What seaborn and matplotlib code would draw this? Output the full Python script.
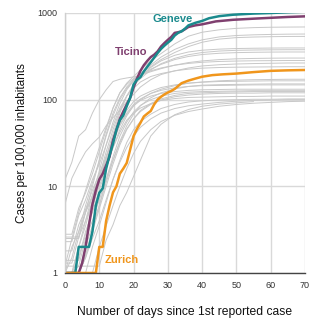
import numpy as np
import pandas as pd
import matplotlib
matplotlib.use("Agg")
import matplotlib.pyplot as plt
import matplotlib.ticker as mticker
import seaborn as sns

sns.set_theme(style="white")
plt.rcParams['font.family'] = ['Liberation Sans', 'DejaVu Sans']

# ---------------- data ----------------
# highlighted cantons (cases per 100,000 inhabitants vs days since 1st case)
geneve_days = [0, 1, 2, 3, 4, 5, 6, 7, 8, 9, 10, 11, 12, 13, 14, 15, 16, 17, 18, 19, 20,
               21, 22, 23, 24, 25, 26, 27, 28, 29, 30, 31, 32, 33, 34, 35, 36, 38, 40, 42,
               45, 49, 55, 60, 65, 70]
geneve_vals = [1, 1, 1, 1, 2, 2, 2, 2, 3, 6, 8.4, 9.5, 16, 23, 31, 45, 58, 66, 84, 105, 150,
               170, 182, 212, 240, 270, 305, 345, 385, 420, 455, 490, 550, 590, 615, 660, 720,
               770, 810, 870, 920, 955, 985, 1000, 1020, 1035]

ticino_days = [0, 1, 2, 3, 4, 5, 6, 7, 8, 9, 10, 11, 12, 13, 14, 15, 16, 17, 18, 19, 20,
               21, 22, 23, 24, 25, 26, 27, 28, 29, 30, 31, 32, 33, 34, 35, 36, 38, 40, 44,
               49, 55, 60, 65, 70]
ticino_vals = [1, 1, 1, 1, 1, 1.3, 2, 3.6, 6.2, 9, 12, 14, 17.5, 22, 34, 45, 60, 73, 88, 105,
               138, 175, 215, 250, 280, 310, 330, 360, 410, 450, 490, 530, 590, 600, 615, 650,
               690, 720, 740, 800, 835, 860, 880, 900, 915]

zurich_days = [0, 1, 2, 3, 4, 5, 6, 7, 8, 9, 10, 11, 12, 13, 14, 15, 16, 17, 18, 19, 20,
               21, 22, 23, 24, 25, 26, 27, 28, 29, 30, 31, 32, 34, 36, 38, 40, 43, 46, 50,
               55, 60, 65, 70]
zurich_vals = [1, 1, 1, 1, 1, 1, 1, 1, 1, 1, 2, 2, 4, 6, 8.5, 10, 14, 16, 18.6, 26.5, 38,
               46, 54, 64, 69, 74, 88, 100, 108, 115, 121, 126, 133, 155, 166, 175, 184, 192,
               196, 200, 208, 215, 218, 220]

# other cantons, sampled on a shared day grid
gray_days = [0, 2, 4, 6, 8, 10, 12, 14, 16, 18, 20, 22, 25, 28, 32, 36, 40, 45, 50, 55, 60, 65, 70]
nan = float('nan')
VD = [1.2, 2.5, 5, 9, 16, 28, 48, 80, 120, 155, 185, 220, 280, 340, 440, 540, 600, 640, 665, 678, 685, 688, 690]
VS = [1, 1, 2, 4, 8, 15, 30, 55, 90, 130, 165, 200, 250, 310, 380, 440, 490, 530, 550, 560, 566, 570, 572]
BS = [1, 2, 3, 5, 10, 20, 40, 70, 105, 140, 170, 200, 240, 290, 350, 410, 460, 500, 520, 528, 533, 536, 537]
JU = [1.4, 1.4, 1.4, 2.8, 5.5, 11, 22, 40, 70, 110, 150, 185, 235, 280, 325, 355, 372, 383, 389, 392, 394, 395, 395]
NE = [1, 1, 2, 3.5, 7, 13, 25, 45, 75, 110, 145, 175, 220, 260, 300, 330, 350, 364, 371, 374, 376, 377, 377]
FR = [1, 1.5, 3, 6, 11, 20, 38, 65, 100, 135, 165, 190, 225, 255, 290, 315, 332, 343, 349, 352, 354, 355, 355]
GR = [12, 19, 38, 45, 70, 100, 130, 162, 172, 178, 183, 192, 210, 228, 250, 268, 280, 290, 296, 299, 301, 302, 302]
UR = [2.8, 2.8, 5.6, 8.4, 14, 25, 45, 80, 120, 150, 175, 195, 215, 232, 250, 262, 270, 276, 279, 281, 282, 283, 283]
AI = [6.2, 12.4, 18, 25, 31, 37, 50, 62, 75, 95, 115, 140, 170, 195, 215, 232, 245, 253, 258, 261, 263, 265, 265]
NW = [2.3, 2.3, 4.6, 7, 12, 18, 30, 50, 80, 110, 135, 160, 185, 200, 215, 225, 231, 235, 237, 238, 239, 240, 240]
BL = [1, 1, 1.5, 3, 5, 9, 16, 28, 45, 65, 85, 100, 118, 132, 145, 155, 160, 165, 168, 170, 171, 172, 172]
OW = [2.6, 2.6, 2.6, 5.2, 7.8, 13, 21, 35, 55, 75, 95, 110, 125, 138, 148, 155, 159, 162, 163, 164, 165, 165, 165]
SO = [1, 1, 1, 2, 3.5, 6, 11, 20, 33, 50, 68, 85, 105, 120, 133, 142, 147, 149, 150, 151, 152, 152, 152]
AR = [1.8, 1.8, 3.6, 5.4, 9, 14, 22, 35, 52, 70, 88, 102, 118, 128, 137, 142, 145, 146, 147, 148, 148, 148, 148]
GL = [2.5, 2.5, 2.5, 5, 7.5, 12, 20, 32, 50, 68, 85, 98, 110, 118, 124, 128, 130, 131, 132, 132, 132, 132, 132]
ZG = [1, 1, 1, 1.6, 3.2, 6, 12, 22, 38, 55, 72, 86, 100, 110, 118, 122, 124, 125, 126, 127, 127, 127, 127]
BE = [1, 1, 1, 1.5, 3, 5.5, 10, 18, 30, 45, 60, 75, 90, 102, 112, 118, 120, 122, 123, 124, 124, 124, 124]
LU = [1, 1, 1.2, 2.5, 4, 7, 12, 20, 32, 46, 60, 73, 88, 99, 108, 113, 116, 118, 119, 119, 120, 120, 120]
SZ = [1.3, 1.3, 2.6, 4, 6.5, 10, 17, 28, 42, 58, 70, 80, 90, 98, 103, 106, 107, 108, 109, 109, 110, 110, 110]
SG = [1, 1, 1, 1, 2, 3.5, 6.5, 12, 20, 32, 45, 56, 68, 79, 88, 94, 97, 99, 100, 101, 101, 102, 102]
AG = [1, 1, 1, 1.5, 2.5, 4, 7, 12, 19, 28, 38, 48, 60, 70, 79, 85, 89, 93, 96, 98, 99, 100, 100]
TG = [1, 1, 1, 1, 1, 2, 3.5, 6, 10, 16, 24, 33, 45, 56, 66, 73, 78, 84, 88, 91, 93, 95, 96]
SH = [1.2, 1.2, 1.2, 1.2, 1.2, 1.2, 2.4, 3.6, 6, 8.5, 13, 20, 38, 52, 67, 77, 84, 89, 92, 95, nan, nan, nan]

gray_cantons = {"VD": VD, "VS": VS, "BS": BS, "JU": JU, "NE": NE, "FR": FR, "GR": GR,
                "UR": UR, "AI": AI, "NW": NW, "BL": BL, "OW": OW, "SO": SO, "AR": AR,
                "GL": GL, "ZG": ZG, "BE": BE, "LU": LU, "SZ": SZ, "SG": SG, "AG": AG,
                "TG": TG, "SH": SH}

x_ticks = [0, 10, 20, 30, 40, 50, 60, 70]
y_ticks = [1, 10, 100, 1000]
y_tick_labels = ["1", "10", "100", "1000"]

# ---------------- build frames ----------------
gray_rows = []
for name, vals in gray_cantons.items():
    for d, v in zip(gray_days, vals):
        if not np.isnan(v):
            gray_rows.append((name, d, v))
df_gray = pd.DataFrame(gray_rows, columns=["canton", "day", "value"])

df_main = pd.concat([
    pd.DataFrame({"canton": "Ticino", "day": ticino_days, "value": ticino_vals}),
    pd.DataFrame({"canton": "Geneve", "day": geneve_days, "value": geneve_vals}),
    pd.DataFrame({"canton": "Zurich", "day": zurich_days, "value": zurich_vals}),
], ignore_index=True)

col_teal = "#1a8a8d"
col_plum = "#7f3f6f"
col_orange = "#f0961c"
palette = {"Ticino": col_plum, "Geneve": col_teal, "Zurich": col_orange}

# ---------------- plot ----------------
fig = plt.figure(figsize=(3.27, 3.27), dpi=100)
ax = fig.add_axes([65 / 327, 54 / 327, 240 / 327, 260 / 327])

ax.set_yscale("log")
ax.set_xlim(0, 70)
ax.set_ylim(1, 1000)

ax.grid(True, which="major", color="#d9d9d9", lw=1.0)
ax.grid(False, which="minor")
ax.set_axisbelow(True)

sns.lineplot(data=df_gray, x="day", y="value", units="canton", estimator=None,
             color="#c8c8c8", lw=0.7, ax=ax, legend=False, sort=True)
sns.lineplot(data=df_main, x="day", y="value", hue="canton", palette=palette,
             hue_order=["Ticino", "Geneve", "Zurich"], units="canton", estimator=None,
             lw=1.8, ax=ax, legend=False)

ax.set_xticks(x_ticks)
ax.set_yticks(y_ticks)
ax.set_yticklabels(y_tick_labels)
ax.yaxis.set_minor_locator(mticker.NullLocator())
ax.tick_params(axis="both", labelsize=6.5, colors="#333333", length=0, pad=5.5)

for s in ["top", "right"]:
    ax.spines[s].set_visible(False)
ax.spines["left"].set_color("#cfcfcf")
ax.spines["left"].set_linewidth(1.0)
ax.spines["bottom"].set_color("#444444")
ax.spines["bottom"].set_linewidth(1.0)

ax.set_xlabel("Number of days since 1st reported case", fontsize=8.7, color="#111111", labelpad=12)
ax.set_ylabel("Cases per 100,000 inhabitants", fontsize=8.5, color="#111111", labelpad=7)

ax.text(31.5, 850, "Geneve", color=col_teal, fontsize=8, fontweight="bold", ha="center", va="center")
ax.text(19.3, 355, "Ticino", color=col_plum, fontsize=8, fontweight="bold", ha="center", va="center")
ax.text(16.6, 1.4, "Zurich", color=col_orange, fontsize=8, fontweight="bold", ha="center", va="center")

fig.savefig("out.png", dpi=100)
